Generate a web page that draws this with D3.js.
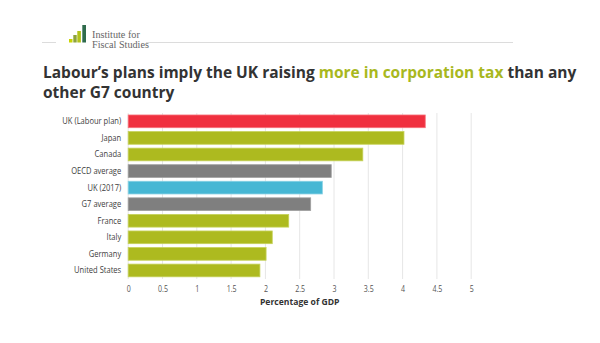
<!DOCTYPE html>
<html>
<head>
<meta charset="utf-8">
<script src="https://cdn.jsdelivr.net/npm/d3@7"></script>
<style>
  html, body { margin: 0; padding: 0; background: #fff; }
  svg { display: block; }
</style>
</head>
<body>
<svg id="chart" width="600" height="343"></svg>
<script>
// Corporation tax receipts, % of GDP
const categories = ["UK (Labour plan)", "Japan", "Canada", "OECD average", "UK (2017)",
                    "G7 average", "France", "Italy", "Germany", "United States"];
const values = [4.33, 4.02, 3.42, 2.96, 2.83, 2.66, 2.34, 2.10, 2.01, 1.92];
const kinds = ["plan", "country", "country", "average", "uk", "average",
               "country", "country", "country", "country"];
const tickValues = [0, 0.5, 1, 1.5, 2, 2.5, 3, 3.5, 4, 4.5, 5];
const axisTitle = "Percentage of GDP";

const colours = { plan: "#f0303f", country: "#adba1f", average: "#7f7f7f", uk: "#46b7d4" };
const strokes = { plan: "#f7707a", country: "#c6d25a", average: "#a0a0a0", uk: "#86d0e4" };

const svg = d3.select("#chart");
const font = "'Open Sans', 'Noto Sans', sans-serif";
const narrow = "scale(0.84,1)";   // semi-condensed look for axis labels

// Header rule and logo
svg.append("line").attr("x1", 42).attr("x2", 56).attr("y1", 42.5).attr("y2", 42.5)
  .attr("stroke", "#dcdcdc").attr("stroke-width", 1);
svg.append("line").attr("x1", 146).attr("x2", 513).attr("y1", 42.5).attr("y2", 42.5)
  .attr("stroke", "#dcdcdc").attr("stroke-width", 1);

const logoBars = [
  { x: 69, w: 3.5, top: 39, c: "#c8d400" },
  { x: 73.3, w: 3.4, top: 35, c: "#8da33b" },
  { x: 77.3, w: 3.6, top: 31, c: "#b2c21a" },
  { x: 82.3, w: 3.7, top: 25, c: "#2f6b4c" }
];
svg.append("g").selectAll("rect").data(logoBars).join("rect")
  .attr("x", d => d.x).attr("y", d => d.top).attr("width", d => d.w)
  .attr("height", d => 42.5 - d.top).attr("fill", d => d.c);
const logoText = svg.append("text").attr("font-family", "'Liberation Serif', 'DejaVu Serif', serif")
  .attr("font-size", 10.2).attr("fill", "#666");
logoText.append("tspan").attr("x", 92).attr("y", 37.8).text("Institute for");
logoText.append("tspan").attr("x", 92).attr("y", 47.5).text("Fiscal Studies");

// Title
const title = svg.append("text").attr("font-family", font).attr("font-weight", 700)
  .attr("font-size", 15.5).attr("fill", "#333");
const l1 = title.append("tspan").attr("x", 43).attr("y", 78);
l1.append("tspan").text("Labour\u2019s plans imply the UK raising ");
l1.append("tspan").attr("fill", "#a8b81e").text("more in corporation tax");
l1.append("tspan").text(" than any");
title.append("tspan").attr("x", 43).attr("y", 98).text("other G7 country");

// Scales
const x = d3.scaleLinear().domain([0, 5]).range([128.2, 471.2]);
const y = d3.scaleBand().domain(categories).range([113, 278.8])
  .paddingInner(0.233).paddingOuter(0.12);

// Gridlines
svg.append("g").selectAll("line").data(tickValues).join("line")
  .attr("x1", d => x(d)).attr("x2", d => x(d))
  .attr("y1", 113).attr("y2", 279)
  .attr("stroke", "#e6e6e6").attr("stroke-width", 1);

// Bars
svg.append("g").selectAll("rect").data(categories).join("rect")
  .attr("x", x(0))
  .attr("y", d => y(d))
  .attr("width", (d, i) => x(values[i]) - x(0))
  .attr("height", y.bandwidth())
  .attr("fill", (d, i) => colours[kinds[i]])
  .attr("stroke", (d, i) => strokes[kinds[i]])
  .attr("stroke-width", 0.8);

// Category axis
const yAxis = svg.append("g").attr("transform", `translate(${x(0) - 7},0)`)
  .call(d3.axisLeft(y).tickSize(0).tickPadding(0));
yAxis.select(".domain").remove();
yAxis.selectAll("text").attr("transform", narrow).attr("font-family", font)
  .attr("font-size", 9).attr("fill", "#404040");

// Value axis
const xAxis = svg.append("g").attr("transform", "translate(0,279)")
  .call(d3.axisBottom(x).tickValues(tickValues).tickSize(0).tickPadding(7)
    .tickFormat(d3.format("")));
xAxis.select(".domain").remove();
xAxis.selectAll("text").attr("transform", narrow).attr("font-family", font)
  .attr("font-size", 8.4).attr("fill", "#555");

svg.append("text").attr("x", (x(0) + x(5)) / 2).attr("y", 305)
  .attr("text-anchor", "middle").attr("font-family", font).attr("font-weight", 700)
  .attr("font-size", 8.6).attr("fill", "#333").text(axisTitle);
</script>
</body>
</html>
